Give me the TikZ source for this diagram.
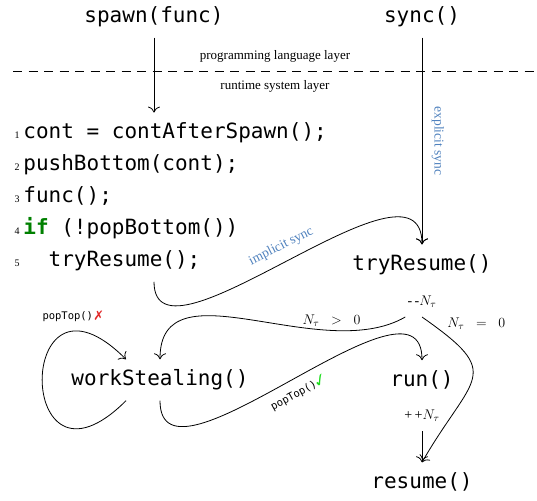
\documentclass[tikz,border=0pt]{standalone}
\usepackage{fix-cm}
\usepackage{fontspec}
\setmainfont{Liberation Serif}
\setmonofont{DejaVu Sans Mono}
\usepackage{amsmath}
\usepackage{pifont}
\usetikzlibrary{arrows.meta,positioning}

\definecolor{syncblue}{RGB}{79,129,189}
\definecolor{kwgreen}{RGB}{0,128,0}
\definecolor{okgreen}{RGB}{30,220,30}
\definecolor{failred}{RGB}{225,40,40}

\newcommand{\markyes}{\textcolor{okgreen}{\fontsize{13}{13}\selectfont\ding{51}}}
\newcommand{\markno}{\textcolor{failred}{\fontsize{13}{13}\selectfont\ding{55}}}

\tikzset{
    call/.style={font=\fontsize{21}{25}\selectfont\ttfamily, inner sep=10pt},
    codeline/.style={call, inner sep=3pt, anchor=base west},
    lineno/.style={font=\fontsize{10}{12}\selectfont, anchor=base, inner sep=0pt},
    layer/.style={font=\fontsize{13}{15}\selectfont},
    synclabel/.style={font=\fontsize{13.5}{16}\selectfont, text=syncblue},
    counter/.style={font=\fontsize{14}{17}\selectfont, inner xsep=2pt, inner ysep=9pt},
    cond/.style={font=\fontsize{14}{17}\selectfont},
    steal/.style={font=\fontsize{10.5}{12}\selectfont\ttfamily},
}

\begin{document}
\begin{tikzpicture}[x=1pt, y=1pt, >={To[length=6pt, width=12pt]}, line width=0.8pt]
    \useasboundingbox (0, 0) rectangle (537, 500);
    \coordinate (s) at (154, 483);
    \coordinate (y) at (422, 483);
    \coordinate (lft) at (13, 429);
    \coordinate (rgt) at (537, 429);
    \coordinate (t) at (422, 235);
    \coordinate (w) at (160, 120);
    \coordinate (r) at (422, 120);
    \coordinate (e) at (422, 18);

    \draw (s) node [call, name=spawn] {spawn(func)};
    \draw (y) node [call, name=sync] {sync()};
    \draw [dash pattern=on 9pt off 6.5pt] (lft) -- (rgt)
        node [midway, above=5pt, layer] {programming language layer}
        node [midway, below=6pt, layer] {runtime system layer};

    % code run by spawn
    \draw (17, 361) node [lineno, name=n1] {1};
    \draw (17, 329) node [lineno, name=n2] {2};
    \draw (17, 297) node [lineno, name=n3] {3};
    \draw (17, 265) node [lineno, name=n4] {4};
    \draw (17, 233) node [lineno, name=n5] {5};
    \draw (20, 361) node [codeline, name=l1] {cont = contAfterSpawn();};
    \draw (20, 329) node [codeline, name=l2] {pushBottom(cont);};
    \draw (20, 297) node [codeline, name=l3] {func();};
    \draw (20, 265) node [codeline, name=l4] {{\bfseries\color{kwgreen}if} (!popBottom())};
    \draw (20, 233) node [codeline, name=l5] {\phantom{xx}tryResume();};

    \draw (t) node [call, name=tryres] {tryResume()};
    \draw (w) node [call, name=ws] {workStealing()};
    \draw (r) node [call, name=run] {run()};
    \draw (e) node [call, name=resume] {resume()};
    \node [counter, below=1pt of tryres] (dec) {-\,-$N_\tau$};
    \node [counter, below=1pt of run] (inc) {+\,+$N_\tau$};

    \draw [->, shorten >=7pt] (spawn) -- (spawn |- l1.north);
    \draw [->] (sync) -- (tryres) node [midway, above=6pt, sloped, synclabel] {explicit sync};
    \draw [->, shorten <=7pt] (spawn |- l5.south) to [out=-90, in=90]
        node [pos=0.5, above=5pt, sloped, synclabel] {implicit sync} (tryres);

    \draw [->] ([xshift=-34pt]ws.south) to [out=225, in=135, distance=158pt]
        node [pos=0.8, above=6pt, steal] {popTop()\,\markno} ([xshift=-34pt]ws.north);
    \draw [->] (dec.south west) to [out=-150, in=90]
        node [pos=0.25, above, cond] {$N_\tau \;\;>\;\; 0$} (ws);
    \draw [->] (ws) to [out=-90, in=90]
        node [pos=0.5, below=5pt, sloped, steal] {popTop()\markyes} (run);
    \draw [->] (dec.south) to [out=-35, in=60, looseness=1.8]
        node [pos=0.1, above right, cond] {$N_\tau \;\;=\;\; 0$} (resume.north);
    \draw [->] (inc) -- (resume);
\end{tikzpicture}
\end{document}
